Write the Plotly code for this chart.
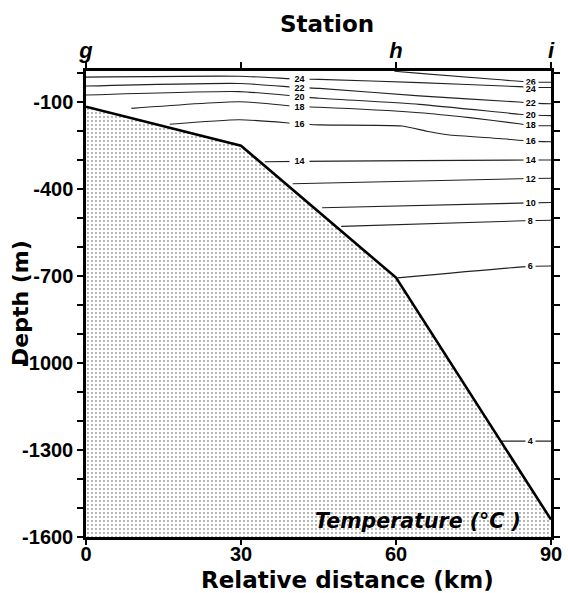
import numpy as np
import plotly.graph_objects as go

# ---------------- data ----------------
distance_ticks = [0, 30, 60, 90]
station_pos = [0, 30, 60, 90]
station_labels = ["g", "", "h", "i"]
depth_ticks = [-100, -400, -700, -1000, -1300, -1600]
depth_min = -1600
depth_max = 8

bottom_x = [0, 30, 60, 90]
bottom_depth = [-115, -250, -705, -1540]

iso_26_x = [59.7, 86.1, 90]
iso_26_d = [7, -30, -31]
iso_24_x = [0, 29.7, 41.3, 45.2, 64.5, 83.8, 86.1, 90]
iso_24_d = [-13, -10, -20, -21, -32, -46, -48, -49]
iso_22_x = [0, 29.7, 41.3, 45.2, 64.5, 83.8, 86.1, 90]
iso_22_d = [-44, -35, -49, -52, -78, -99, -103, -105]
iso_20_x = [0, 29.7, 41.3, 45.2, 64.5, 83.8, 86.1, 90]
iso_20_d = [-75, -63, -80, -86, -107, -141, -144, -146]
iso_18_x = [8.8, 29.7, 41.3, 45.2, 64.5, 74.2, 83.8, 86.1, 90]
iso_18_d = [-121, -98, -115, -117, -136, -153, -174, -180, -181]
iso_16_x = [16.2, 29.7, 41.3, 45.2, 61.2, 66, 70, 80, 86.1, 90]
iso_16_d = [-176, -160, -174, -178, -182, -200, -212, -225, -234, -236]
iso_14_x = [34.6, 41.3, 86.1, 90]
iso_14_d = [-305, -304, -299, -299]
iso_12_x = [40, 86.1, 90]
iso_12_d = [-381, -363, -362]
iso_10_x = [45.7, 86.1, 90]
iso_10_d = [-464, -447, -446]
iso_8_x = [49.4, 86.1, 90]
iso_8_d = [-528, -508, -507]
iso_6_x = [60.3, 86.1, 90]
iso_6_d = [-706, -666, -665]
iso_4_x = [80.5, 86.1, 90]
iso_4_d = [-1269, -1269, -1269]

iso_temps = [26, 24, 22, 20, 18, 16, 14, 12, 10, 8, 6, 4]
left_label_temps = [24, 22, 20, 18, 16, 14]
left_label_x = 41.3
right_label_x = 86.1

isolines = {
    26: (iso_26_x, iso_26_d), 24: (iso_24_x, iso_24_d), 22: (iso_22_x, iso_22_d),
    20: (iso_20_x, iso_20_d), 18: (iso_18_x, iso_18_d), 16: (iso_16_x, iso_16_d),
    14: (iso_14_x, iso_14_d), 12: (iso_12_x, iso_12_d), 10: (iso_10_x, iso_10_d),
    8: (iso_8_x, iso_8_d), 6: (iso_6_x, iso_6_d), 4: (iso_4_x, iso_4_d),
}

# ---------------- figure ----------------
fig = go.Figure()

# seabed (stippled)
fig.add_trace(go.Scatter(
    x=bottom_x + [bottom_x[-1], bottom_x[0]],
    y=bottom_depth + [depth_min, depth_min],
    fill="toself", mode="none",
    fillcolor="white",
    fillpattern=dict(shape=".", size=4, solidity=0.18, fgcolor="#333333", bgcolor="white"),
    hoverinfo="skip", showlegend=False,
))

# isotherms
for t in iso_temps:
    xs, ds = isolines[t]
    fig.add_trace(go.Scatter(x=xs, y=ds, mode="lines",
                             line=dict(color="#222222", width=1.1, shape="spline", smoothing=0.6),
                             hoverinfo="skip", showlegend=False))

# seabed profile line
fig.add_trace(go.Scatter(x=bottom_x, y=bottom_depth, mode="lines",
                         line=dict(color="black", width=2.6),
                         hoverinfo="skip", showlegend=False))

# dummy trace for top axis
fig.add_trace(go.Scatter(x=[0, 90], y=[depth_min, depth_min], xaxis="x2", mode="none",
                         hoverinfo="skip", showlegend=False))

lab_font = dict(family="Arial", size=9, color="black", weight="bold")
annotations = []
for t in left_label_temps:
    xs, ds = isolines[t]
    yv = float(np.interp(left_label_x, xs, ds))
    annotations.append(dict(x=left_label_x, y=yv, xref="x", yref="y", text=f"\u2002{t}\u2002",
                            showarrow=False, font=lab_font, bgcolor="white", borderpad=0,
                            height=8, xanchor="center", yanchor="middle"))
for t in reversed(iso_temps):
    xs, ds = isolines[t]
    yv = float(np.interp(right_label_x, xs, ds))
    annotations.append(dict(x=right_label_x, y=yv, xref="x", yref="y", text=f"\u2009{t}\u2009",
                            showarrow=False, font=lab_font, bgcolor="white", borderpad=0,
                            height=8, xanchor="center", yanchor="middle",
                            yshift=-2 if t == 24 else 0))
# draw 24 after 26 on the right side
i24 = [k for k, a in enumerate(annotations) if a["x"] == right_label_x and "24" in a["text"]][0]
annotations.append(annotations.pop(i24))

annotations.append(dict(x=84.6, y=depth_min, xref="x", yref="y", text="Temperature (°C )",
                        showarrow=False, xanchor="right", yanchor="bottom", yshift=2,
                        font=dict(family="DejaVu Sans", size=20.5, color="black",
                                  weight="bold", style="italic")))

# axis titles
annotations.append(dict(x=0.562, y=-0.092, xref="paper", yref="paper",
                        text="Relative distance (km)", showarrow=False,
                        xanchor="center", yanchor="middle",
                        font=dict(family="DejaVu Sans", size=23, color="black", weight="bold")))
annotations.append(dict(x=0.518, y=1.101, xref="paper", yref="paper",
                        text="Station", showarrow=False,
                        xanchor="center", yanchor="middle",
                        font=dict(family="DejaVu Sans", size=23, color="black", weight="bold")))
annotations.append(dict(x=-0.142, y=0.502, xref="paper", yref="paper",
                        text="Depth (m)", showarrow=False, textangle=-90,
                        xanchor="center", yanchor="middle",
                        font=dict(family="DejaVu Sans", size=22, color="black", weight="bold")))

tick_font = dict(family="Arial", size=20, color="black", weight="bold")

fig.update_layout(
    width=568, height=593, autosize=False,
    margin=dict(l=86, r=17, t=71, b=56),
    paper_bgcolor="white", plot_bgcolor="white",
    showlegend=False,
    annotations=annotations,
    xaxis=dict(range=[0, 90], tickmode="array", tickvals=distance_ticks,
               ticktext=[str(v) for v in distance_ticks], ticks="outside", ticklen=5, tickwidth=2,
               tickcolor="black", showline=True, linewidth=2.5, linecolor="black", mirror=True,
               showgrid=False, zeroline=False, tickfont=tick_font, automargin=False,
               ticklabelstandoff=-8),
    xaxis2=dict(range=[0, 90], overlaying="x", side="top", tickmode="array",
                tickvals=station_pos, ticktext=station_labels, ticks="outside", ticklen=6,
                tickwidth=2, tickcolor="black", showline=True, linewidth=2.5, linecolor="black",
                showgrid=False, zeroline=False, automargin=False, ticklabelstandoff=-5,
                tickfont=dict(family="Arial", size=22, color="black",
                              weight="bold", style="italic")),
    yaxis=dict(range=[depth_min, depth_max], tickmode="array", tickvals=depth_ticks,
               ticktext=[str(v) for v in depth_ticks], ticks="outside", ticklen=6, tickwidth=2,
               tickcolor="black",
               minor=dict(tickmode="linear", dtick=100, tick0=0, ticks="outside", ticklen=4,
                          tickwidth=1.5, tickcolor="black", showgrid=False),
               showline=True, linewidth=2.5, linecolor="black", mirror="allticks",
               showgrid=False, zeroline=False, tickfont=tick_font, automargin=False),
)

fig.write_html("out.html")
